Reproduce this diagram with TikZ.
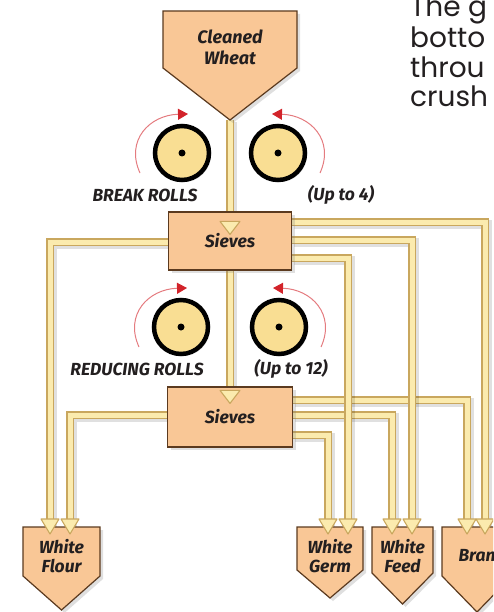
\documentclass[tikz,border=0pt]{standalone}
\usepackage{fontspec}
\setsansfont{Fira Sans}
\newfontfamily\gothic{Poppins}
\usepackage{tikz}
\usetikzlibrary{shadows,calc,arrows.meta}

\definecolor{bin}{HTML}{F9C796}
\definecolor{binline}{HTML}{5B3A1F}
\definecolor{tube}{HTML}{C9A75E}
\definecolor{tubefill}{HTML}{FBEBAE}
\definecolor{rollfill}{HTML}{F9DE93}
\definecolor{spinred}{HTML}{D2232A}
\definecolor{ink}{HTML}{231F20}

\pgfdeclarelayer{pipes}
\pgfsetlayers{pipes,main}

\begin{document}
\begin{tikzpicture}[x=1pt, y=-1pt,
    tag/.style={font=\sffamily\bfseries\itshape\fontsize{17.5}{19}\selectfont, text=ink, align=center},
    box/.style={draw=binline, fill=bin, line width=1.2pt,
        drop shadow={shadow xshift=3pt, shadow yshift=-3pt, opacity=0.25}},
    pipe/.style={draw=tube, double=tubefill, double distance=5pt, line width=1.4pt,
        preaction={draw=black, opacity=0.12, line width=9pt, transform canvas={shift={(2pt,-2pt)}}}},
    head/.style={draw=tube, fill=tubefill, line width=1.1pt, line join=round},
    roll/.style={draw=black, fill=rollfill, line width=4.5pt,
        drop shadow={shadow xshift=2pt, shadow yshift=-2pt, opacity=0.2}},
    spin/.style={draw=spinred!60, line width=1pt, -{Triangle[length=10pt, width=11pt, color=spinred]}},
    note/.style={font=\gothic\fontsize{28}{30}\selectfont, text=ink, anchor=base west, inner sep=0pt}]

    \useasboundingbox (0,0) rectangle (493,612);
    \clip (0,0) rectangle (493,612);

    % Cleaned wheat hopper
    \draw[box] (163,11) -- (297,11) -- (297,68) -- (230,120) -- (163,68) -- cycle;
    \node[tag, font=\sffamily\bfseries\itshape\fontsize{18}{21}\selectfont] (wheat) at (230,47) {Cleaned\\Wheat};
    \coordinate (spout) at (230,120);

    % Sieves
    \node[box, tag, minimum width=123pt, minimum height=58pt] (sv1) at (230,241) {Sieves};
    \node[box, tag, minimum width=125pt, minimum height=60pt] (sv2) at (230,417) {Sieves};

    % Rolls and their turning arrows
    \foreach \cx/\cy in {182/153, 181/327} {
        \draw[roll] (\cx,\cy) circle (27pt);
        \fill (\cx,\cy) circle (3.5pt);
        \draw[spin] (\cx-42,\cy+20) .. controls (\cx-57,\cy-13) and (\cx-32,\cy-38) .. (\cx+6,\cy-39);
    }
    \foreach \cx/\cy in {278/153, 279/327} {
        \draw[roll] (\cx,\cy) circle (27pt);
        \fill (\cx,\cy) circle (3.5pt);
        \draw[spin] (\cx+42,\cy+20) .. controls (\cx+57,\cy-13) and (\cx+32,\cy-38) .. (\cx-6,\cy-39);
    }
    \node[tag] (breaklbl) at (145,195) {BREAK ROLLS};
    \node[tag] (breaknum) at (341,195) {(Up to 4)};
    \node[tag] (reducelbl) at (137,369) {REDUCING ROLLS};
    \node[tag] (reducenum) at (291,369) {(Up to 12)};

    % Products
    \foreach \n/\cx/\w/\yb/\yt/\txt in {flour/61.5/77/576/610/{White\\Flour},
        germ/330/66/570/598/{White\\Germ}, feed/402.5/61/573/604/{White\\Feed},
        bran/477/70/576/612/{Bran}} {
        \draw[box] (\cx-\w/2,527) -- (\cx+\w/2,527) -- (\cx+\w/2,\yb) -- (\cx,\yt) -- (\cx-\w/2,\yb) -- cycle;
        \coordinate (\n) at (\cx,527);
        \node[tag] (\n txt) at (\cx,556) {\txt};
    }

    % Pipes (second sieves first, first sieves cross over them)
    \begin{pgfonlayer}{pipes}
        \draw[pipe] (sv2.east |- 0,400) -| (bran -| 467,0);
        \draw[pipe] (sv2.east |- 0,415) -| (feed -| 392,0);
        \draw[pipe] (sv2.east |- 0,435) -| (germ -| 328,0);
        \draw[pipe] (sv2.west |- 0,415) -| (flour -| 70,0);
        \draw[pipe] (sv1.east |- 0,222) -| (bran -| 485,0);
        \draw[pipe] (sv1.east |- 0,240) -| (feed -| 412,0);
        \draw[pipe] (sv1.east |- 0,258) -| (germ -| 348,0);
        \draw[pipe] (sv1.west |- 0,242) -| (flour -| 50,0);
        \draw[pipe] (spout) -- ($(sv1.north)+(0,10)$);
        \draw[pipe] (sv1.south) -- ($(sv2.north)+(0,4)$);
    \end{pgfonlayer}

    % Arrow heads
    \foreach \x in {50,70,328,348,392,412,467,485}
        \filldraw[head] (\x-9,519) -- (\x+9,519) -- (\x,534) -- cycle;
    \filldraw[head] ($(sv1.north)+(-10,10)$) -- ($(sv1.north)+(10,10)$) -- ($(sv1.north)+(0,23)$) -- cycle;
    \filldraw[head] ($(sv2.north)+(-10,4)$) -- ($(sv2.north)+(10,4)$) -- ($(sv2.north)+(0,17)$) -- cycle;

    % Cut-off text at the right
    \node[note] (l1) at (410,17) {The g};
    \node[note] (l2) at (410,48) {botto};
    \node[note] (l3) at (410,78) {throu};
    \node[note] (l4) at (410,107) {crush};
\end{tikzpicture}
\end{document}
